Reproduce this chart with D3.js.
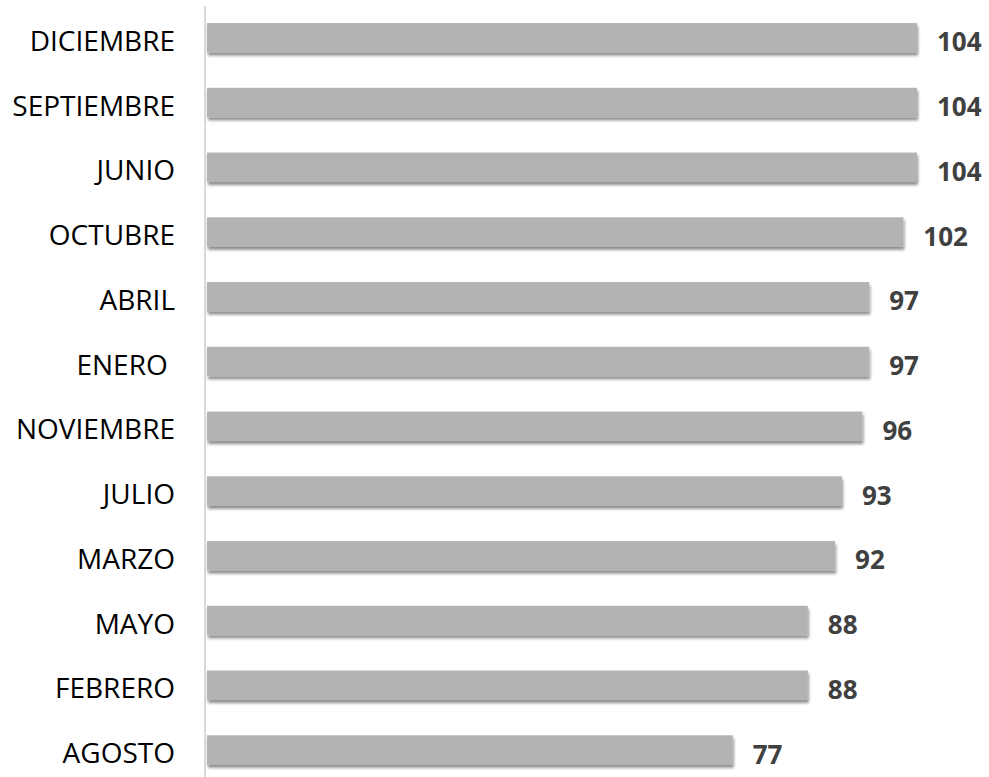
<!DOCTYPE html>
<html><head><meta charset="utf-8">
<script src="https://cdn.jsdelivr.net/npm/d3@7"></script>
<style>html,body{margin:0;padding:0;background:#fff;} svg{display:block;}</style>
</head><body>
<svg id="chart" width="989" height="777"></svg>
<script>
const categories = ["DICIEMBRE","SEPTIEMBRE","JUNIO","OCTUBRE","ABRIL","ENERO ","NOVIEMBRE","JULIO","MARZO","MAYO","FEBRERO","AGOSTO"];
const values = [104,104,104,102,97,97,96,93,92,88,88,77];

const svg = d3.select("#chart");
const defs = svg.append("defs");
const f = defs.append("filter").attr("id","sh").attr("x","-5%").attr("y","-30%").attr("width","110%").attr("height","180%");
f.append("feDropShadow").attr("dx",1).attr("dy",3).attr("stdDeviation",1.6).attr("flood-color","#000").attr("flood-opacity",0.45);

const x = d3.scaleLinear().domain([0,104]).range([207,917]);
const y = d3.scaleBand().domain(categories).range([5.4,782.4]).paddingInner(0.545).paddingOuter(0.2725);

svg.append("line").attr("x1",205).attr("x2",205).attr("y1",6).attr("y2",777)
  .attr("stroke","#d9d9d9").attr("stroke-width",2);

svg.selectAll("rect.bar").data(values).join("rect").attr("class","bar")
  .attr("x",x(0)).attr("y",(d,i)=>y(categories[i]))
  .attr("width",d=>x(d)-x(0)).attr("height",y.bandwidth())
  .attr("fill","#b3b3b3").attr("filter","url(#sh)");

svg.selectAll("text.cat").data(categories).join("text").attr("class","cat")
  .attr("x",175).attr("y",d=>y(d)+y.bandwidth()/2).attr("dy","0.47em")
  .attr("text-anchor","end").style("white-space","pre").attr("xml:space","preserve")
  .attr("font-family","'Open Sans', sans-serif").attr("font-size",28).attr("fill","#000")
  .text(d=>d);

svg.selectAll("text.val").data(values).join("text").attr("class","val")
  .attr("x",d=>x(d)+20).attr("y",(d,i)=>y(categories[i])+y.bandwidth()/2).attr("dy","0.52em")
  .attr("font-family","'Open Sans', sans-serif").attr("font-weight","bold").attr("font-size",26).attr("fill","#404040")
  .text(d=>d);
</script>
</body></html>
